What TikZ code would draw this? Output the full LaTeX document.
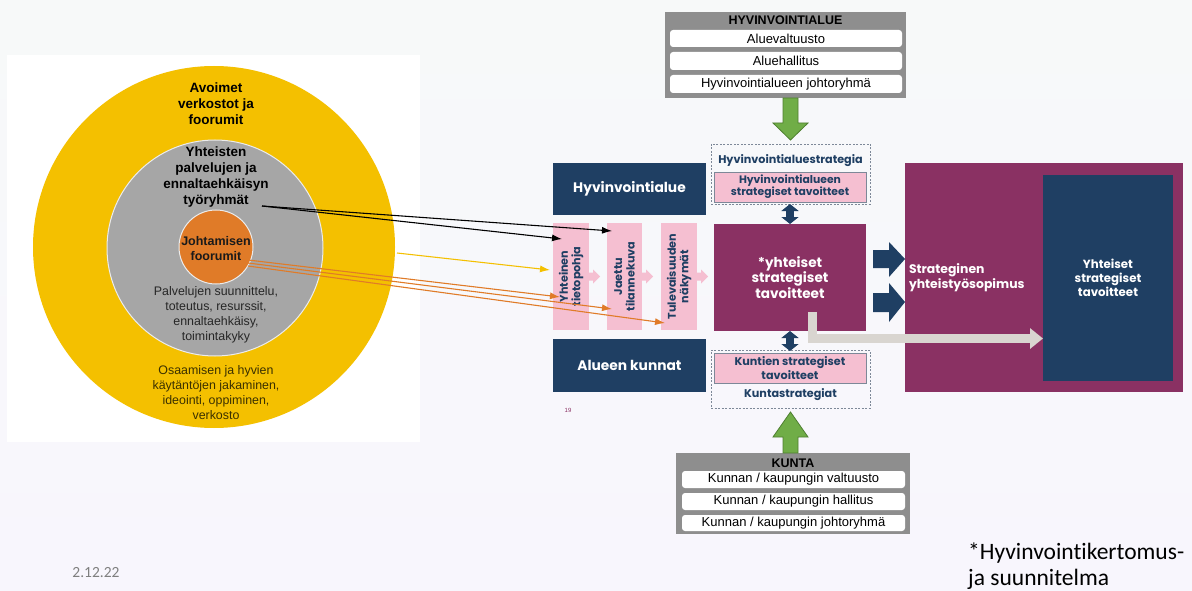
\documentclass[tikz,border=0pt]{standalone}
\usepackage{fontspec}
\setmainfont{Liberation Sans}
\newfontfamily\popf{Poppins}
\newfontfamily\calf[Ligatures=NoCommon]{Carlito}
\usetikzlibrary{arrows.meta,calc}
\definecolor{navy}{HTML}{1F3F63}
\definecolor{plum}{HTML}{8A3163}
\definecolor{pinkc}{HTML}{F5BFD1}
\definecolor{yel}{HTML}{F4C000}
\definecolor{greyc}{HTML}{A6A6A6}
\definecolor{orng}{HTML}{E07B28}
\definecolor{hdrgrey}{HTML}{8E8E8E}
\definecolor{lgrey}{HTML}{D9D5D0}
\definecolor{gfill}{HTML}{70AD47}
\definecolor{gdark}{HTML}{4E7F30}
\definecolor{dashc}{HTML}{7D8898}
\definecolor{txtjoh}{HTML}{1A1A1A}
\definecolor{txtpal}{HTML}{262626}
\definecolor{txtosa}{HTML}{3A3000}
\definecolor{datec}{HTML}{7F7F7F}
\tikzset{
  box/.style={inner sep=0pt, outer sep=0pt, align=center},
  navybox/.style={box, fill=navy, text=white, font=\popf\bfseries\fontsize{13.8}{16}\selectfont},
  barbox/.style={box, fill=pinkc},
  bartext/.style={box, rotate=90, text=navy, font=\popf\bfseries\fontsize{11.2}{12.5}\selectfont},
  pinkbox/.style={box, fill=pinkc, draw=dashc, line width=0.6pt, text=navy},
  dashbox/.style={box, draw=dashc, dash pattern=on 2pt off 1.5pt, line width=0.8pt},
  hdrbox/.style={box, fill=hdrgrey},
  rowbox/.style={box, fill=white, rounded corners=3pt, font=\fontsize{13}{15}\selectfont},
  hdrtitle/.style={box, font=\bfseries\fontsize{12.5}{15}\selectfont},
  circbold/.style={box, font=\bfseries\fontsize{13.5}{16.2}\selectfont},
  circreg/.style={box, font=\fontsize{12.4}{15}\selectfont},
  blk/.style={line width=1.1pt, -{Latex[length=10pt,width=7pt]}},
  yarr/.style={yel, line width=1.1pt, -{Latex[length=10pt,width=7pt]}},
  oarr/.style={orng, line width=1.1pt, -{Latex[length=10pt,width=7pt]}},
}
\begin{document}
\begin{tikzpicture}[x=1pt,y=-1pt]
\useasboundingbox (0,0) rectangle (1192,591);
% background
\shade[top color={rgb,255:red,247;green,249;blue,249}, bottom color={rgb,255:red,248;green,246;blue,253}] (0,0) rectangle (1192,591);
\fill[white] (7,55) rectangle (420,442);

% circles
\fill[yel] (214,247) circle (181);
\filldraw[fill=greyc, draw=white!85!gray, line width=1pt] (215,248) circle (108);
\filldraw[fill=orng, draw=white!85!gray, line width=1pt] (216,247) circle (37);

\node[circbold] (avo) at (216,103.5) {Avoimet\\verkostot ja\\foorumit};
\node[circbold] (tyo) at (216,177) {Yhteisten\\palvelujen ja\\ennaltaehkäisyn\\työryhmät};
\node[box, text=txtjoh, font=\bfseries\fontsize{12.5}{15}\selectfont] (joh) at (216,248.5) {Johtamisen\\foorumit};
\node[circreg, text=txtpal] (pal) at (216,314.5) {Palvelujen suunnittelu,\\toteutus, resurssit,\\ennaltaehkäisy,\\toimintakyky};
\node[circreg, text=txtosa] (osa) at (216,392.5) {Osaamisen ja hyvien\\käytäntöjen jakaminen,\\ideointi, oppiminen,\\verkosto};

% left blocks
\node[navybox, minimum width=153pt, minimum height=52pt] (hva) at (629.5,189) {Hyvinvointialue};
\node[navybox, minimum width=153pt, minimum height=53pt] (kun) at (629.5,365.5) {Alueen kunnat};

% pink bars
\node[barbox, minimum width=36pt, minimum height=107pt] (bar1) at (571,276.5) {};
\node[barbox, minimum width=35pt, minimum height=107pt] (bar2) at (624.5,276.5) {};
\node[barbox, minimum width=36pt, minimum height=107pt] (bar3) at (679,276.5) {};
\foreach \b in {bar1,bar2,bar3}{
  \fill[pinkc] ($(\b.east)+(0,-4)$) -- ++(4,0) -- ++(0,-3) -- ++(7,7) -- ++(-7,7) -- ++(0,-3) -- ++(-4,0) -- cycle;
}
\node[bartext] at (bar1.center) {Yhteinen\\tietopohja};
\node[bartext] at (bar2.center) {Jaettu\\tilannekuva};
\node[bartext] at (bar3.center) {Tulevaisuuden\\näkymät};

% centre
\node[box, fill=plum, text=white, minimum width=152pt, minimum height=107pt, font=\popf\bfseries\fontsize{13.6}{15.5}\selectfont] (ysp) at (790,277.5) {*yhteiset\\strategiset\\tavoitteet};

\node[dashbox, minimum width=159pt, minimum height=60pt] (dtop) at (790.5,174) {};
\node[box, text=navy, font=\popf\bfseries\fontsize{11.2}{12}\selectfont] (dtopt) at (790.5,160.5) {Hyvinvointialuestrategia};
\node[pinkbox, minimum width=152pt, minimum height=30pt, font=\popf\bfseries\fontsize{10.8}{12}\selectfont] (hvp) at (790,187) {Hyvinvointialueen\\strategiset tavoitteet};

\node[dashbox, minimum width=159pt, minimum height=58pt] (dbot) at (790.5,379) {};
\node[pinkbox, minimum width=152pt, minimum height=30pt, font=\popf\bfseries\fontsize{11.2}{14}\selectfont] (kup) at (790,368) {Kuntien strategiset\\tavoitteet};
\node[box, text=navy, font=\popf\bfseries\fontsize{11.2}{12}\selectfont] (dbott) at (790.5,394.5) {Kuntastrategiat};

\draw[navy, line width=8pt, {Triangle[width=17pt,length=7pt]}-{Triangle[width=17pt,length=7pt]}] ([yshift=-2pt]hvp.south) -- (ysp.north);
\draw[navy, line width=8pt, {Triangle[width=17pt,length=7pt]}-{Triangle[width=17pt,length=7pt]}] (ysp.south) -- ([yshift=2pt]kup.north);

\node[box, text=plum, font=\fontsize{6}{7}\selectfont] (pg) at (568,410) {19};

% right block
\node[box, fill=plum, minimum width=278pt, minimum height=229pt] (big) at (1044,277.5) {};
\node[box, fill=navy, text=white, minimum width=130pt, minimum height=206pt, font=\popf\bfseries\fontsize{11.8}{14}\selectfont] (yst) at (1108,278) {Yhteiset\\strategiset\\tavoitteet};
\node[box, anchor=west, align=left, text=white, font=\popf\bfseries\fontsize{12.4}{15}\selectfont] (sop) at (909,277.5) {Strateginen\\yhteistyösopimus};

\fill[navy] (873,250) -- (889,250) -- (889,242) -- (905,259) -- (889,277) -- (889,268) -- (873,268) -- cycle;
\fill[navy] (873,293) -- (889,293) -- (889,283) -- (905,302) -- (889,322) -- (889,312) -- (873,312) -- cycle;

\coordinate (lst) at (812.5,312);
\draw[lgrey, line width=9pt, -{Triangle[width=20pt,length=13pt]}] (lst) |- ($(yst.west)+(0,60.5)$);

% top header box
\node[hdrbox, minimum width=241pt, minimum height=86pt] (hvbox) at (785.5,55) {};
\node[hdrtitle] (hvt) at (785.5,20.5) {HYVINVOINTIALUE};
\node[rowbox, minimum width=232pt, minimum height=17pt] (r1) at (786,38.5) {Aluevaltuusto};
\node[rowbox, minimum width=232pt, minimum height=18pt] (r2) at (786,61) {Aluehallitus};
\node[rowbox, minimum width=232pt, minimum height=18pt] (r3) at (786,84) {Hyvinvointialueen johtoryhmä};

% bottom header box
\node[hdrbox, minimum width=234pt, minimum height=81pt] (kbox) at (793,493.5) {};
\node[hdrtitle] (kt) at (793,463) {KUNTA};
\node[rowbox, minimum width=223pt, minimum height=17pt] (k1) at (793.5,479.5) {Kunnan / kaupungin valtuusto};
\node[rowbox, minimum width=223pt, minimum height=17pt] (k2) at (793.5,501.5) {Kunnan / kaupungin hallitus};
\node[rowbox, minimum width=223pt, minimum height=16pt] (k3) at (793.5,523) {Kunnan / kaupungin johtoryhmä};

% green arrows
\coordinate (g1) at (790.5,98);
\filldraw[fill=gfill, draw=gdark, line width=0.8pt] ($(g1)+(-7.5,0)$) -- ++(0,25) -- ++(-10,0) -- ++(17.5,17) -- ++(17.5,-17) -- ++(-10,0) -- ++(0,-25) -- cycle;
\coordinate (g2) at (790.5,453);
\filldraw[fill=gfill, draw=gdark, line width=0.8pt] ($(g2)+(-7.5,0)$) -- ++(0,-16) -- ++(-10,0) -- ++(17.5,-25) -- ++(17.5,25) -- ++(-10,0) -- ++(0,16) -- cycle;

% connectors from circles
\coordinate (tyoend) at (262,206);
\coordinate (t1) at (612,231);
\coordinate (t2) at (562,239);
\draw[blk] (tyoend) -- (t1);
\draw[blk] (tyoend) -- (t2);
\coordinate (ystart) at (397,253);
\coordinate (yend) at (550,270);
\draw[yarr] (ystart) -- (yend);
\coordinate (o0a) at (248,260);
\coordinate (o0b) at (248,263);
\coordinate (o0c) at (248,266);
\coordinate (o1) at (560,297);
\coordinate (o2) at (612,309);
\coordinate (o3) at (665,323);
\draw[oarr] (o0a) -- (o1);
\draw[oarr] (o0b) -- (o2);
\draw[oarr] (o0c) -- (o3);

% footnotes
\node[anchor=base west, inner sep=0pt, font=\calf\fontsize{23.5}{26}\selectfont] (fn1) at (968,559) {*Hyvinvointikertomus-};
\node[anchor=base west, inner sep=0pt, font=\calf\fontsize{23.5}{26}\selectfont] (fn2) at (968,585) {ja suunnitelma};
\node[box, text=datec, font=\calf\fontsize{15.5}{18}\selectfont] (date) at (96,573) {2.12.22};
\end{tikzpicture}
\end{document}
